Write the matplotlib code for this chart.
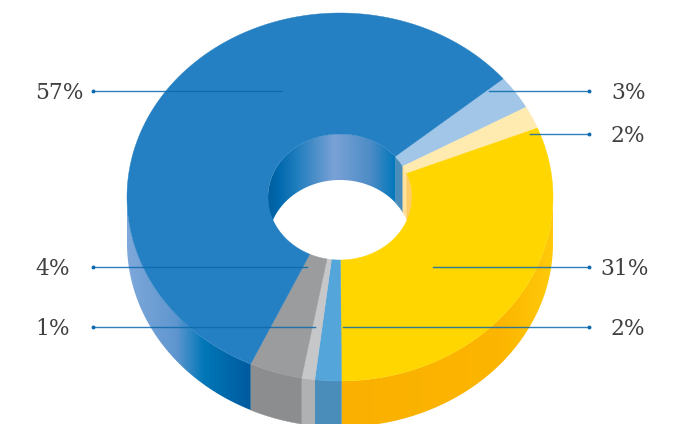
import numpy as np
import matplotlib
matplotlib.use('Agg')
import matplotlib.pyplot as plt
from matplotlib.colors import LinearSegmentedColormap
from matplotlib.patches import Polygon

# slices, clockwise from the first one after the big blue part
labels = ['3%', '2%', '31%', '2%', '1%', '4%', '57%']
values = [3, 2, 31, 2, 1, 4, 57]
top_colors = ['#a1c6e8', '#ffeab0', '#ffd600', '#54a5da', '#c6c7c9', '#9b9c9e', '#2580c3']
side_colors = ['#4a8dbb', '#ffe09a', '#ffcc66', '#4a8dbb', '#b0b1b3', '#8c8d8f', '#2580c3']

# leader lines: inner end x, y, label x
leaders_right = [(489, 91, 611), (530, 134, 611), (433, 267, 600), (343, 327, 611)]
right_text = ['3%', '2%', '31%', '2%']
leaders_left = [(282, 91), (307, 267), (315, 327)]
left_text = ['57%', '4%', '1%']

cx, cy = 340, 197
rx, ry = 213, 184
hole_rx, hole_ry = 72, 63
depth = 46
start = 40

blue_outer = LinearSegmentedColormap.from_list('bo', [(0, '#7fa8da'), (0.4, '#5f96cf'), (0.62, '#0077b8'), (1, '#005a9e')])
blue_inner = LinearSegmentedColormap.from_list('bi', [(0, '#005f9f'), (0.08, '#0068ae'), (0.22, '#1f7dbd'), (0.52, '#7aa2d6'), (0.8, '#4d8cc6'), (1, '#0077bb')])
yellow_outer = LinearSegmentedColormap.from_list('yo', [(0, '#fab000'), (0.75, '#fcb500'), (1, '#ffca0a')])


def arc(a, b, w, h, dy=0):
    t = np.radians(np.linspace(a, b, 200))
    return np.column_stack([cx + w * np.cos(t), cy + dy - h * np.sin(t)])


def gradient(ax, poly, cmap, zorder):
    x0, x1 = poly[:, 0].min(), poly[:, 0].max()
    im = ax.imshow(np.linspace(0, 1, 256)[None, :], cmap=cmap, aspect='auto', interpolation='bilinear',
                   extent=(x0, x1, 424, 0), zorder=zorder)
    im.set_clip_path(Polygon(poly, closed=True, transform=ax.transData))


fig = plt.figure(figsize=(6.73, 4.24), dpi=100)
ax = fig.add_axes([0, 0, 1, 1])

bounds = start - np.cumsum([0] + values) * 3.6

for i in range(len(values)):
    hi, lo = bounds[i], bounds[i + 1]

    # outer wall, only the part below the equator can be seen
    a, b = max(lo, -180), min(hi, 0)
    if b > a:
        poly = np.vstack([arc(a, b, rx, ry), arc(b, a, rx, ry, depth)])
        if values[i] == 57:
            gradient(ax, poly, blue_outer, 1)
        elif values[i] == 31:
            gradient(ax, poly, yellow_outer, 1)
        else:
            ax.add_patch(Polygon(poly, closed=True, fc=side_colors[i], ec=side_colors[i], lw=0.3, zorder=1))

    # inner wall, only the back half of the hole can be seen
    shift = 360 if lo < -180 else 0
    a, b = max(lo + shift, 0), min(hi + shift, 180)
    if b > a:
        poly = np.vstack([arc(a, b, hole_rx, hole_ry), arc(b, a, hole_rx, hole_ry, depth)])
        if values[i] == 57:
            gradient(ax, poly, blue_inner, 2)
        else:
            ax.add_patch(Polygon(poly, closed=True, fc=side_colors[i], ec=side_colors[i], lw=0.3, zorder=2))

    # top face
    ring = np.vstack([arc(lo, hi, rx, ry), arc(hi, lo, hole_rx, hole_ry)])
    ax.add_patch(Polygon(ring, closed=True, fc=top_colors[i], ec=top_colors[i], lw=0.3, zorder=3))

# leader lines and their labels
line_color = '#0b69ad'
text_style = dict(fontsize=15.7, family='DejaVu Serif', color='#404040', va='center', ha='left', zorder=6)
for (x0, y, tx), t in zip(leaders_right, right_text):
    ax.plot([x0, 589], [y, y], color=line_color, lw=1.0, alpha=0.85, zorder=5)
    ax.plot(589, y, 'o', color=line_color, ms=2.8, mew=0, zorder=5)
    ax.text(tx, y + 2, t, **text_style)
for (x1, y), t in zip(leaders_left, left_text):
    ax.plot([93, x1], [y, y], color=line_color, lw=1.0, alpha=0.85, zorder=5)
    ax.plot(93, y, 'o', color=line_color, ms=2.8, mew=0, zorder=5)
    ax.text(35, y + 2, t, **text_style)

ax.set_xlim(0, 673)
ax.set_ylim(424, 0)
ax.axis('off')
fig.savefig('out.png', dpi=100)
